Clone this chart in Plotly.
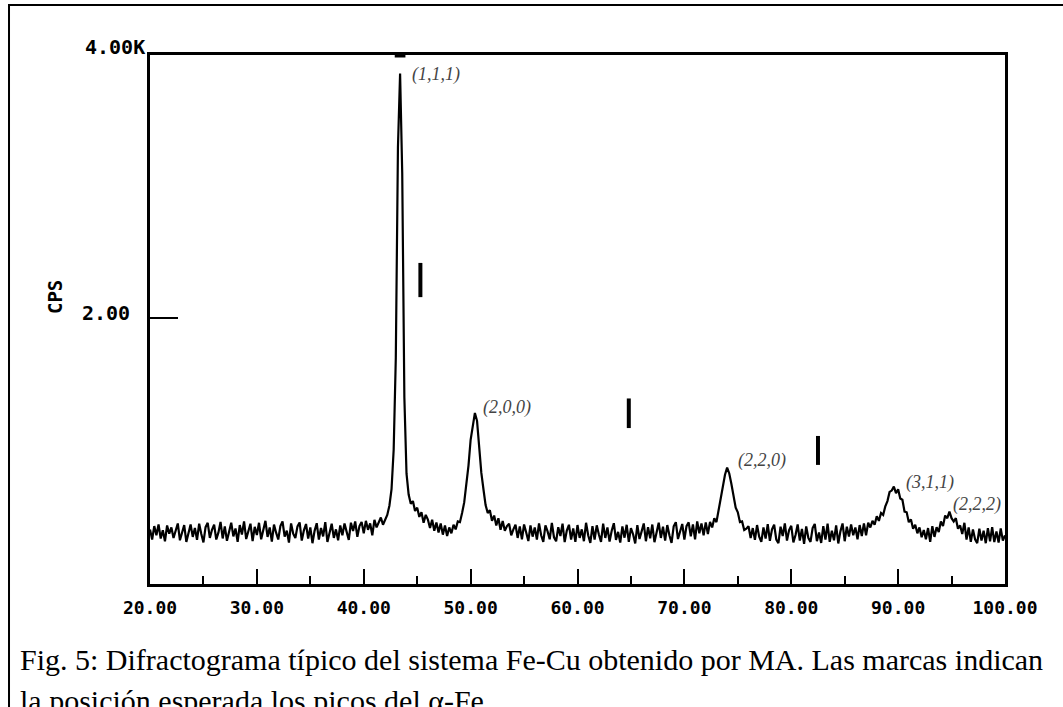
"""
Difractograma Fe-Cu (MA) - recreated with plotly.
"""

import plotly.graph_objects as go

# 2-theta sampling of the scan (degrees)
two_theta_start = 20.0
two_theta_step = 0.2

# counts per second, one value every 0.2 deg from 20 to 100
cps = [
    395, 318, 420, 350, 432, 326, 388, 305, 425, 362,   # 20
    410, 330, 385, 440, 312, 372, 428, 300, 378, 433,   # 22
    338, 405, 316, 438, 360, 296, 412, 445, 330, 392,   # 24
    430, 318, 370, 452, 326, 418, 308, 384, 446, 342,   # 26
    402, 300, 428, 356, 455, 322, 380, 438, 306, 414,   # 28
    352, 445, 320, 392, 460, 338, 410, 302, 432, 370,   # 30
    318, 420, 455, 340, 386, 295, 440, 362, 330, 418,   # 32
    448, 310, 388, 436, 325, 410, 290, 384, 442, 318,   # 34
    406, 342, 450, 300, 372, 438, 330, 395, 312, 425,   # 36
    350, 440, 376, 315, 446, 382, 455, 338, 420, 452,   # 38
    365, 460, 392, 440, 350, 468, 410, 452, 485, 430,   # 40
    470, 505, 575, 700, 1000, 1700, 3300, 3860, 3100, 1400,  # 42
    820, 660, 590, 610, 535, 560, 490, 525, 445, 505,   # 44
    470, 405, 468, 385, 448, 372, 440, 355, 425, 345,   # 46
    410, 365, 430, 395, 455, 450, 520, 600, 740, 880,   # 48
    1076, 1190, 1280, 1220, 1023, 826, 700, 580, 520, 540,  # 50
    460, 500, 425, 480, 392, 458, 385, 420, 438, 350,   # 52
    395, 430, 330, 418, 320, 432, 372, 306, 425, 340,   # 54
    410, 318, 440, 350, 300, 425, 380, 320, 445, 335,   # 56
    305, 412, 345, 438, 298, 386, 430, 318, 402, 300,   # 58
    428, 330, 395, 305, 445, 350, 292, 420, 318, 426,   # 60
    356, 300, 438, 330, 410, 302, 385, 442, 315, 376,   # 62
    295, 418, 332, 430, 300, 405, 358, 288, 428, 322,   # 64
    380, 440, 305, 412, 328, 432, 298, 385, 446, 330,   # 66
    415, 310, 428, 350, 292, 418, 450, 322, 390, 436,   # 68
    318, 420, 448, 342, 432, 320, 455, 366, 440, 350,   # 70
    448, 360, 452, 410, 480, 450, 540, 630, 740, 810,   # 72
    864, 820, 740, 660, 560, 525, 450, 455, 390, 400,   # 74
    420, 330, 405, 315, 428, 340, 300, 410, 325, 435,   # 76
    308, 395, 430, 318, 290, 415, 345, 440, 310, 390,   # 78
    422, 296, 352, 432, 310, 398, 285, 418, 330, 300,   # 80
    405, 436, 305, 372, 292, 420, 318, 438, 300, 385,   # 82
    312, 425, 288, 380, 440, 305, 415, 340, 432, 350,   # 84
    410, 320, 428, 345, 440, 350, 445, 410, 460, 430,   # 86
    495, 460, 520, 505, 570, 610, 680, 690, 720, 670,   # 88
    700, 630, 620, 530, 525, 450, 470, 400, 430, 365,   # 90
    410, 335, 390, 320, 405, 300, 420, 338, 412, 375,   # 92
    455, 420, 500, 480, 530, 480, 455, 480, 400, 425,   # 94
    360, 445, 318, 410, 300, 395, 320, 290, 400, 310,   # 96
    385, 290, 405, 305, 412, 298, 380, 295, 402, 310,   # 98
    350,                                                # 100
]

# Cu reflections (peak position, peak height, label)
peak_pos = [43.4, 50.4, 74.05, 89.6, 94.9]
peak_cps = [3860, 1280, 864, 712, 508]
peak_labels = ["(1,1,1)", "(2,0,0)", "(2,2,0)", "(3,1,1)", "(2,2,2)"]

# expected alpha-Fe positions (marks), top and bottom of each bar
fe_pos = [45.3, 64.8, 82.5]
fe_top = [2420, 1390, 1105]
fe_bottom = [2160, 1165, 885]

# axis ticks
x_ticks = [20, 30, 40, 50, 60, 70, 80, 90, 100]
x_ticktext = ["20.00", "30.00", "40.00", "50.00", "60.00", "70.00", "80.00", "90.00", "100.00"]
x_minor = [25, 35, 45, 55, 65, 75, 85, 95]

MONO = "DejaVu Sans Mono"
SERIF = "Liberation Serif"

fig = go.Figure()

fig.add_trace(go.Scatter(
    x0=two_theta_start, dx=two_theta_step, y=cps,
    mode="lines",
    line=dict(color="black", width=2.2),
    hoverinfo="skip",
    showlegend=False,
))

# alpha-Fe marks as short vertical bars
mark_x, mark_y = [], []
for p, t, b in zip(fe_pos, fe_top, fe_bottom):
    mark_x += [p, p, None]
    mark_y += [b, t, None]
fig.add_trace(go.Scatter(
    x=mark_x, y=mark_y, mode="lines",
    line=dict(color="black", width=4),
    hoverinfo="skip", showlegend=False,
))

# peak labels, shifted a few pixels right of each peak top
label_dx = [10, 6, 8, 10, 1]
label_dy = [-1, 5, 7, 5, 10]
for p, c, txt, dx, dy in zip(peak_pos, peak_cps, peak_labels, label_dx, label_dy):
    fig.add_annotation(
        x=p, y=c, text=txt, showarrow=False,
        xanchor="left", yanchor="middle", xshift=dx, yshift=dy,
        font=dict(family=SERIF, size=18, color="#444", style="italic"),
    )

# y labels drawn as in the original plotter output
fig.add_annotation(x=-0.0035, y=1.0151, xref="paper", yref="paper", text="4.00K",
                   showarrow=False, xanchor="right", yanchor="middle",
                   font=dict(family=MONO, size=20, color="black", weight="bold"))
fig.add_annotation(x=-0.0211, y=0.5123, xref="paper", yref="paper", text="2.00",
                   showarrow=False, xanchor="right", yanchor="middle",
                   font=dict(family=MONO, size=20, color="black", weight="bold"))
fig.add_annotation(x=-0.1111, y=0.5425, xref="paper", yref="paper", text="CPS",
                   showarrow=False, textangle=-90, xanchor="center", yanchor="middle",
                   font=dict(family=MONO, size=19, color="black", weight="bold"))

# caption
fig.add_annotation(
    x=-0.1544, y=-0.1418, xref="paper", yref="paper", showarrow=False,
    xanchor="left", yanchor="middle",
    text="Fig. 5: Difractograma típico del sistema Fe-Cu obtenido por MA. Las marcas indican",
    font=dict(family=SERIF, size=30, color="black"),
)
fig.add_annotation(
    x=-0.1544, y=-0.2193, xref="paper", yref="paper", showarrow=False,
    xanchor="left", yanchor="middle",
    text="la posición esperada los picos del α-Fe",
    font=dict(family=SERIF, size=30, color="black"),
)

# outer frame of the figure
fig.add_shape(type="rect", xref="paper", yref="paper",
              x0=-0.1649, x1=1.09, y0=-0.35, y1=1.0945,
              line=dict(color="black", width=2), fillcolor="rgba(0,0,0,0)")
# small overflow mark on top axis above the main peak
fig.add_shape(type="line", xref="x", yref="paper", x0=42.9, x1=43.9, y0=1.0, y1=1.0,
              line=dict(color="black", width=5))

fig.update_xaxes(
    range=[20, 100],
    showline=True, linecolor="black", linewidth=3, mirror=True,
    showgrid=False, zeroline=False,
    tickmode="array", tickvals=x_ticks, ticktext=x_ticktext,
    ticks="inside", ticklen=15, tickwidth=2, tickcolor="black",
    tickfont=dict(family=MONO, size=18, color="black", weight="bold"),
    ticklabelstandoff=5,
    minor=dict(tickmode="array", tickvals=x_minor, ticks="inside",
               ticklen=8, tickwidth=2, tickcolor="black", showgrid=False),
)
fig.update_yaxes(
    range=[-20, 4000],
    showline=True, linecolor="black", linewidth=3, mirror=True,
    showgrid=False, zeroline=False,
    tickmode="array", tickvals=[2000],
    ticks="inside", ticklen=28, tickwidth=2, tickcolor="black",
    showticklabels=False,
)

fig.update_layout(
    width=1063, height=707,
    margin=dict(l=150, r=58, t=55, b=123),
    paper_bgcolor="white", plot_bgcolor="white",
    showlegend=False,
)

# drop the browser's default page margin so the figure sits at the window corner
fig.write_html(
    "out.html",
    config={"displayModeBar": False},
    post_script="document.body.style.margin='0';document.body.style.overflow='hidden';",
)
